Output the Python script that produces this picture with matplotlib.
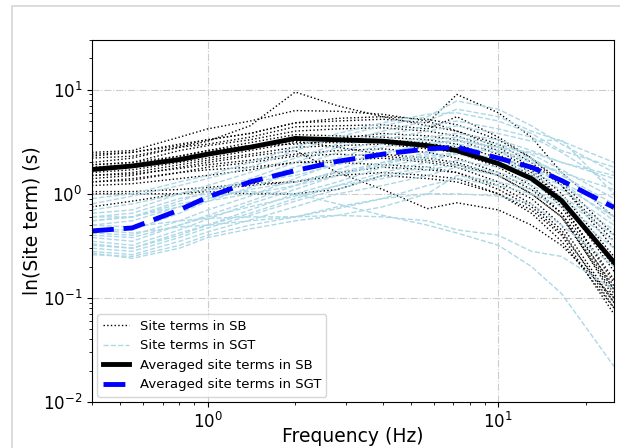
import numpy as np
import matplotlib
matplotlib.use('Agg')
import matplotlib.pyplot as plt
from matplotlib.patches import Rectangle

# frequencies (Hz)
freq = [0.4, 0.55, 0.8, 1.0, 1.4, 2.0, 2.8, 4.0, 5.7, 7.2, 10, 13, 16.5, 25]

# site terms in SB (one list per station)
sb_terms = [
    [2.0, 2.2, 2.8, 3.2, 4.5, 9.5, 7.0, 5.5, 4.5, 4.0, 3.0, 2.0, 1.2, 0.35],
    [2.5, 2.6, 3.5, 4.2, 5.0, 6.3, 6.2, 5.8, 5.0, 4.0, 2.8, 1.8, 1.0, 0.25],
    [2.3, 2.5, 3.0, 3.3, 3.8, 4.8, 5.0, 5.2, 4.8, 9.0, 6.0, 3.5, 1.6, 0.6],
    [2.2, 2.3, 2.8, 3.0, 3.5, 4.4, 4.5, 4.6, 4.2, 5.5, 3.5, 2.2, 1.3, 0.4],
    [1.9, 2.0, 2.6, 2.9, 3.3, 4.0, 4.2, 4.3, 4.0, 3.6, 2.6, 1.7, 0.9, 0.2],
    [1.8, 1.9, 2.3, 2.6, 3.1, 3.7, 3.6, 3.5, 3.3, 3.0, 2.2, 1.5, 0.8, 0.15],
    [1.7, 1.8, 2.1, 2.4, 2.8, 3.4, 3.4, 3.8, 3.6, 3.3, 2.4, 1.6, 0.9, 0.18],
    [1.6, 1.7, 2.0, 2.2, 2.6, 3.1, 3.1, 3.2, 3.0, 2.8, 2.0, 1.4, 0.75, 0.12],
    [1.5, 1.6, 1.9, 2.1, 2.4, 2.8, 2.9, 3.0, 2.7, 2.5, 1.8, 1.2, 0.65, 0.1],
    [1.4, 1.5, 1.8, 2.0, 2.3, 2.6, 1.6, 1.1, 0.72, 0.82, 0.7, 0.5, 0.32, 0.1],
    [1.3, 1.35, 1.6, 1.8, 2.0, 2.3, 2.4, 2.3, 2.1, 1.9, 1.5, 1.0, 0.6, 0.12],
    [1.2, 1.25, 1.4, 1.5, 1.7, 2.0, 2.1, 2.2, 2.0, 1.8, 1.3, 0.9, 0.5, 0.09],
    [1.05, 1.05, 1.1, 1.15, 1.25, 1.3, 1.6, 1.8, 1.7, 1.6, 1.2, 0.8, 0.45, 0.08],
    [1.0, 1.0, 1.0, 1.05, 1.0, 1.0, 1.1, 1.5, 1.4, 1.3, 1.0, 0.7, 0.4, 0.07],
    [0.75, 0.85, 1.0, 1.1, 1.2, 1.3, 1.5, 1.6, 1.5, 1.4, 1.0, 0.65, 0.35, 0.08],
    [2.4, 2.5, 2.9, 3.3, 3.8, 4.8, 5.3, 5.5, 5.2, 4.6, 3.3, 2.2, 1.2, 0.3],
    [1.9, 2.0, 2.3, 2.6, 2.9, 3.0, 3.2, 3.3, 3.1, 2.7, 2.0, 1.4, 0.8, 0.14],
    [1.75, 1.85, 2.2, 2.5, 2.9, 3.2, 2.8, 2.4, 2.2, 2.0, 1.5, 1.0, 0.6, 0.11],
    [1.3, 1.4, 1.6, 1.7, 1.8, 2.0, 2.0, 1.9, 1.8, 1.6, 1.1, 0.75, 0.42, 0.09],
    [1.5, 1.55, 1.75, 1.9, 2.1, 2.4, 2.6, 2.7, 2.5, 2.2, 1.6, 1.1, 0.65, 0.13],
]

# site terms in SGT
sgt_terms = [
    [0.8, 0.95, 1.2, 1.4, 1.8, 2.6, 3.5, 4.5, 5.5, 7.8, 6.5, 4.5, 3.0, 1.6],
    [0.65, 0.7, 1.0, 1.2, 1.6, 2.2, 3.0, 4.0, 5.0, 6.5, 5.5, 4.0, 3.2, 2.0],
    [0.55, 0.6, 0.85, 1.05, 1.4, 2.0, 2.8, 3.6, 4.5, 5.0, 4.2, 3.5, 2.5, 1.2],
    [0.5, 0.55, 0.75, 0.95, 1.3, 1.8, 2.5, 3.3, 4.0, 4.5, 3.8, 3.2, 3.3, 1.0],
    [0.45, 0.45, 0.65, 0.85, 1.15, 1.6, 2.2, 3.0, 3.5, 3.8, 3.3, 2.6, 2.0, 1.4],
    [0.42, 0.4, 0.55, 0.7, 0.95, 1.4, 2.0, 2.8, 3.3, 3.5, 3.0, 2.4, 1.7, 0.9],
    [0.38, 0.35, 0.5, 0.62, 0.85, 1.2, 1.7, 2.4, 3.0, 3.3, 2.8, 2.2, 1.5, 0.8],
    [0.35, 0.32, 0.45, 0.57, 0.8, 1.1, 1.5, 2.0, 2.5, 2.8, 2.5, 2.0, 1.6, 1.1],
    [0.33, 0.3, 0.42, 0.5, 0.7, 1.0, 1.3, 1.8, 2.2, 2.4, 2.0, 1.6, 1.2, 0.6],
    [0.3, 0.28, 0.38, 0.47, 0.62, 0.85, 1.1, 1.5, 1.8, 2.1, 1.8, 1.5, 1.1, 0.5],
    [0.28, 0.26, 0.35, 0.43, 0.56, 0.75, 1.0, 1.2, 1.5, 1.8, 1.5, 1.2, 0.9, 0.4],
    [0.26, 0.25, 0.32, 0.4, 0.5, 0.6, 0.72, 0.9, 1.2, 1.4, 1.2, 1.0, 0.75, 0.3],
    [0.6, 0.65, 0.9, 1.0, 1.05, 1.0, 0.8, 0.62, 0.5, 0.42, 0.32, 0.2, 0.11, 0.022],
    [0.5, 0.48, 0.55, 0.58, 0.6, 0.6, 0.62, 0.6, 0.55, 0.45, 0.4, 0.28, 0.25, 0.12],
    [0.45, 0.42, 0.48, 0.5, 0.55, 0.6, 0.75, 0.9, 1.0, 1.0, 0.95, 0.8, 0.5, 0.2],
    [0.7, 0.8, 1.0, 1.1, 1.3, 1.5, 1.9, 2.5, 3.0, 3.2, 2.8, 2.5, 2.0, 1.5],
    [0.55, 0.6, 0.8, 0.9, 1.1, 1.3, 1.6, 2.0, 2.3, 2.5, 2.2, 1.8, 1.3, 0.7],
    [0.4, 0.38, 0.5, 0.6, 0.75, 0.95, 1.2, 1.4, 1.7, 1.9, 1.6, 1.3, 0.95, 0.45],
    [0.32, 0.3, 0.4, 0.5, 0.65, 0.9, 1.2, 1.6, 2.0, 2.5, 2.1, 1.7, 1.3, 0.55],
    [0.6, 0.6, 0.75, 0.85, 1.0, 1.2, 1.5, 1.9, 2.4, 3.0, 2.6, 2.1, 1.6, 0.6],
    [0.27, 0.24, 0.3, 0.38, 0.46, 0.55, 0.62, 0.75, 1.0, 1.5, 1.3, 1.1, 0.8, 0.35],
    [0.9, 1.0, 1.3, 1.5, 2.0, 2.8, 3.8, 4.8, 5.8, 6.0, 5.0, 3.8, 2.6, 1.8],
]

# averaged curves
sb_avg = [1.71, 1.85, 2.13, 2.4, 2.8, 3.4, 3.3, 3.2, 2.9, 2.6, 1.95, 1.4, 0.86, 0.22]
sgt_avg = [0.44, 0.47, 0.7, 0.93, 1.3, 1.67, 2.05, 2.4, 2.7, 2.8, 2.2, 1.8, 1.34, 0.74]

fig = plt.figure(figsize=(6.2, 4.48), dpi=100)
# light frame of the original figure
fig.patches.append(Rectangle((12 / 620, -0.05), 1.1, 1 - 6 / 448 + 0.05,
                             transform=fig.transFigure, fill=False,
                             edgecolor='#d6d6d6', linewidth=1.2))
ax = fig.add_axes([92 / 620, 1 - 402 / 448, 522 / 620, 362 / 448])

for i, vals in enumerate(sb_terms):
    ax.plot(freq, vals, color='black', linestyle=':', linewidth=1.0,
            label='Site terms in SB' if i == 0 else None)
for i, vals in enumerate(sgt_terms):
    ax.plot(freq, vals, color='lightblue', linestyle='--', linewidth=1.0,
            label='Site terms in SGT' if i == 0 else None)

ax.plot(freq, sb_avg, color='black', linewidth=3.5, label='Averaged site terms in SB')
ax.plot(freq, sgt_avg, color='blue', linewidth=3.5, linestyle=(0, (4.5, 2)),
        label='Averaged site terms in SGT')

ax.set_xscale('log')
ax.set_yscale('log')
ax.set_xlim(0.4, 25)
ax.set_ylim(0.01, 30)
ax.grid(True, which='major', linestyle='-.', color='#cccccc', linewidth=0.8)
ax.tick_params(labelsize=12)

ax.set_xlabel('Frequency (Hz)', fontsize=13.5)
ax.xaxis.label.set_va('center')
ax.xaxis.set_label_coords(0.5, (402 - 436) / 362)
ax.set_ylabel('ln(Site term) (s)', fontsize=13.5)
ax.yaxis.label.set_va('center')
ax.yaxis.set_label_coords((32 - 92) / 522, 0.5)

ax.legend(loc='lower left', fontsize=9.5, framealpha=0.8, borderaxespad=0.4)

fig.savefig('out.png', dpi=100)
